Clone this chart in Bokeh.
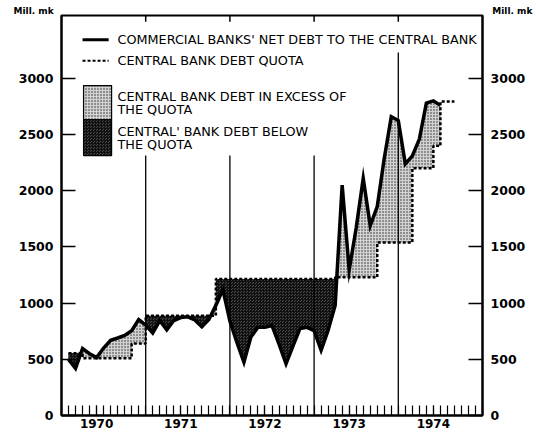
import numpy as np
from bokeh.plotting import figure
from bokeh.models import Range1d, LinearAxis, FixedTicker, CustomJSTickFormatter, Title
from bokeh.core.properties import value
from bokeh.embed import file_html
from bokeh.resources import INLINE

# ---------------- data (Mill. mk, end of month) ----------------
debt_first_year = 1970          # series starts January 1970
debt_1970 = [500, 420, 595, 550, 515, 600, 670, 690, 712, 755, 854, 805]
debt_1971 = [735, 845, 762, 845, 872, 878, 850, 790, 855, 980, 1120, 840]
debt_1972 = [650, 475, 700, 785, 785, 800, 635, 460, 620, 775, 785, 755]
debt_1973 = [580, 760, 980, 2050, 1295, 1670, 2110, 1690, 1860, 2290, 2660, 2625]
debt_1974 = [2240, 2310, 2460, 2780, 2800, 2760]

quota_first_month = 2           # quota series starts February 1970
quota_1970 = [555, 555, 510, 510, 510, 510, 510, 510, 510, 640, 640]
quota_1971 = [888, 888, 888, 888, 888, 888, 888, 888, 888, 888, 1215, 1215]
quota_1972 = [1215, 1215, 1215, 1215, 1215, 1215, 1215, 1215, 1215, 1215, 1215, 1215]
quota_1973 = [1215, 1215, 1215, 1230, 1230, 1230, 1230, 1230, 1230, 1540, 1540, 1540]
quota_1974 = [1540, 1540, 2200, 2200, 2200, 2400, 2795, 2795]

year_labels = [1970, 1971, 1972, 1973, 1974]
y_ticks = [0, 500, 1000, 1500, 2000, 2500, 3000]
year_breaks = [1971, 1972, 1973, 1974]
unit_label = "Mill. mk"

legend_texts = [
    "COMMERCIAL BANKS' NET DEBT TO THE CENTRAL BANK",
    "CENTRAL BANK DEBT QUOTA",
    "CENTRAL BANK DEBT IN EXCESS OF",
    "THE QUOTA",
    "CENTRAL' BANK DEBT BELOW",
    "THE QUOTA",
]

# ---------------- derived series ----------------
debt = debt_1970 + debt_1971 + debt_1972 + debt_1973 + debt_1974
quota = quota_1970 + quota_1971 + quota_1972 + quota_1973 + quota_1974

debt_x = debt_first_year + np.arange(1, len(debt) + 1) / 12.0       # month ends
q_end = debt_first_year + (np.arange(len(quota)) + quota_first_month) / 12.0
q_start = q_end - 1 / 12.0

qx, qy = [], []
for s, e, q in zip(q_start, q_end, quota):
    qx += [s, e]
    qy += [q, q]

lmap = {int(round(x * 12)): v for x, v in zip(debt_x, debt)}
ex_x, ex_lo, ex_hi = [], [], []
bl_x, bl_lo, bl_hi = [], [], []
for s, e, q in zip(q_start, q_end, quota):
    ks, ke = int(round(s * 12)), int(round(e * 12))
    if ks not in lmap or ke not in lmap:
        continue
    L0, L1 = lmap[ks], lmap[ke]
    xs, Ls = [s], [L0]
    d0, d1 = L0 - q, L1 - q
    if d0 * d1 < 0:
        f = d0 / (d0 - d1)
        xs.append(s + f * (e - s))
        Ls.append(q)
    xs.append(e)
    Ls.append(L1)
    for x, L in zip(xs, Ls):
        ex_x.append(x); ex_lo.append(q); ex_hi.append(max(L, q))
        bl_x.append(x); bl_lo.append(min(L, q)); bl_hi.append(q)

# ---------------- figure ----------------
W, H = 536, 432
BL, BR, BT, BB = 61, 54, 15, 17
Y_TOP = 3560
X0, X1 = 1970, 1975
p = figure(width=W, height=H, output_backend="svg", toolbar_location=None,
           x_range=Range1d(X0, X1), y_range=Range1d(0, Y_TOP),
           min_border_left=BL, min_border_right=BR, min_border_top=BT, min_border_bottom=BB)
p.xgrid.visible = False
p.ygrid.visible = False
p.outline_line_color = "black"
p.outline_line_width = 2
p.outline_line_alpha = 1.0
p.background_fill_color = "white"
p.border_fill_color = "white"

LIGHT = dict(fill_color="#d2d2d2", hatch_pattern="dot", hatch_color="#2a2a2a",
             hatch_scale=3, hatch_weight=1)
DARK = dict(fill_color="#4c4c4c", hatch_pattern="criss_cross", hatch_color="#111111",
            hatch_scale=3, hatch_weight=1)

p.varea(x=ex_x, y1=ex_lo, y2=ex_hi, **LIGHT)
p.varea(x=bl_x, y1=bl_lo, y2=bl_hi, **DARK)

# year separators
sep_tops = [2313, 2313, 2313, 3230]
p.segment(x0=year_breaks, y0=[0] * 4, x1=year_breaks, y1=sep_tops,
          line_color="black", line_width=1.3)
p.segment(x0=year_breaks, y0=[Y_TOP] * 4, x1=year_breaks, y1=[Y_TOP - 55] * 4,
          line_color="black", line_width=1.5)

# quota and debt
p.line(qx, qy, line_color="black", line_width=2.5, line_dash="3 2")
p.line(debt_x, debt, line_color="black", line_width=3.5, line_join="miter")

# ---------------- legend (manual, inside frame) ----------------
LX0, LX1, TX = 1970.25, 1970.56, 1970.665
p.segment(x0=[LX0], y0=[3345], x1=[LX1], y1=[3345], line_color="black", line_width=3)
p.segment(x0=[LX0], y0=[3158], x1=[LX1], y1=[3158], line_color="black",
          line_width=2, line_dash="3 2")
p.quad(left=[1970.262], right=[1970.595], bottom=[2633], top=[2936],
       line_color="black", line_width=1.2, **LIGHT)
p.quad(left=[1970.262], right=[1970.595], bottom=[2313], top=[2633],
       line_color="black", line_width=1.2, **DARK)
p.text(x=[TX] * 6, y=[3345, 3158, 2838, 2722, 2527, 2411], text=legend_texts,
       text_baseline="middle", text_align="left", text_color="black",
       text_font=value("DejaVu Sans"), text_font_size="12.8px")

# ---------------- axes ----------------
right_ax = LinearAxis()
p.add_layout(right_ax, "right")
for ax in [p.yaxis[0], right_ax]:
    ax.ticker = FixedTicker(ticks=y_ticks)
    ax.major_tick_in = 14
    ax.major_tick_out = 0
    ax.minor_tick_in = 0
    ax.minor_tick_out = 0
    ax.axis_line_width = 2
    ax.major_tick_line_width = 1.5
    ax.major_label_text_font = "DejaVu Sans"
    ax.major_label_text_font_style = "bold"
    ax.major_label_text_font_size = "12.5px"
    ax.major_label_text_color = "black"
    ax.major_label_standoff = 8

month_ticks = list(1970 + np.arange(0, 61) / 12.0)
label_ticks = [y + 5 / 12.0 for y in year_labels]
xa = p.xaxis[0]
xa.ticker = FixedTicker(ticks=label_ticks, minor_ticks=month_ticks)
xa.formatter = CustomJSTickFormatter(code="return Math.floor(tick + 0.01).toString()")
xa.major_tick_in = 10
xa.major_tick_out = 0
xa.minor_tick_in = 10
xa.minor_tick_out = 0
xa.major_tick_line_width = 1.2
xa.minor_tick_line_width = 1.2
xa.axis_line_width = 2
xa.major_label_text_font = "DejaVu Sans"
xa.major_label_text_font_style = "bold"
xa.major_label_text_font_size = "12px"
xa.major_label_text_color = "black"
xa.major_label_standoff = 3

# unit labels "Mill. mk" above both value axes, in the (unclipped) top panel
GAP = "\u00a0" * 140
p.add_layout(Title(text=unit_label + GAP + unit_label, align="left", offset=13 - BL,
                   standoff=0, vertical_align="bottom",
                   text_font="DejaVu Sans", text_font_style="bold",
                   text_font_size="9px", text_color="black"), "above")

open("out.html", "w").write(file_html(p, INLINE))
